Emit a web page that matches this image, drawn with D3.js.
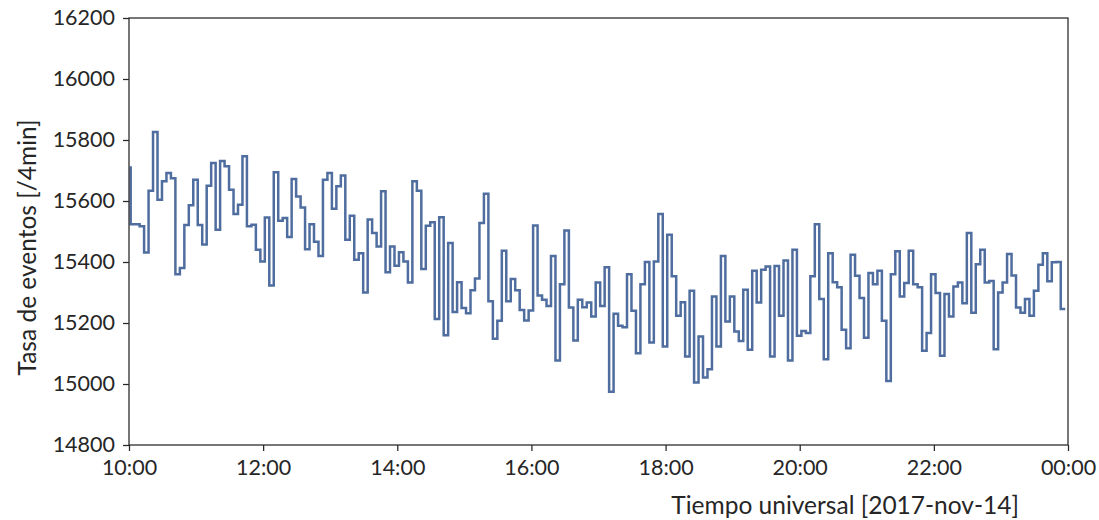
<!DOCTYPE html>
<html>
<head>
<meta charset="utf-8">
<script src="https://cdn.jsdelivr.net/npm/d3@7"></script>
<style>
  html, body { margin: 0; padding: 0; background: #ffffff; }
  svg { display: block; }
  .tick text { font-family: Lato, "Open Sans", sans-serif; font-size: 21.5px; fill: #262626; }
  .lbl { font-family: Lato, "Open Sans", sans-serif; font-size: 24.5px; fill: #262626; }
</style>
</head>
<body>
<svg id="chart" width="1099" height="520"></svg>
<script>
// Event rate per 4-minute bin (counts), 2017-11-14 10:00 - 24:00 UT
const rates = [
  15714, 15524, 15524, 15517, 15431, 15634, 15826, 15604, 15665, 15692,
  15675, 15360, 15380, 15521, 15586, 15670, 15521, 15457, 15650, 15725,
  15506, 15731, 15714, 15637, 15557, 15588, 15747, 15517, 15522, 15440,
  15402, 15546, 15323, 15694, 15535, 15544, 15482, 15672, 15615, 15579,
  15442, 15524, 15466, 15420, 15670, 15692, 15575, 15648, 15684, 15473,
  15552, 15407, 15429, 15300, 15539, 15495, 15451, 15632, 15366, 15451,
  15388, 15432, 15402, 15333, 15665, 15634, 15377, 15519, 15530, 15213,
  15547, 15160, 15462, 15236, 15334, 15249, 15232, 15307, 15346, 15528,
  15624, 15271, 15148, 15207, 15437, 15271, 15344, 15307, 15243, 15208,
  15241, 15520, 15290, 15276, 15256, 15420, 15077, 15327, 15503, 15251,
  15143, 15276, 15252, 15267, 15221, 15333, 15256, 15383, 14975, 15230,
  15191, 15186, 15360, 15240, 15101, 15327, 15400, 15136, 15402, 15557,
  15123, 15489, 15353, 15224, 15268, 15090, 15306, 15005, 15156, 15021,
  15048, 15287, 15123, 15420, 15205, 15287, 15172, 15141, 15309, 15112,
  15371, 15267, 15375, 15385, 15090, 15387, 15224, 15405, 15077, 15440,
  15158, 15174, 15167, 15353, 15524, 15279, 15081, 15429, 15334, 15317,
  15178, 15117, 15424, 15355, 15282, 15152, 15364, 15327, 15371, 15207,
  15010, 15360, 15435, 15287, 15331, 15437, 15327, 15317, 15109, 15167,
  15360, 15298, 15093, 15295, 15221, 15320, 15333, 15265, 15495, 15234,
  15393, 15440, 15333, 15338, 15114, 15300, 15333, 15426, 15356, 15251,
  15234, 15279, 15224, 15306, 15391, 15429, 15337, 15399, 15400, 15246
];
const firstSampleUTC = Date.UTC(2017, 10, 14, 10, 1, 30);
const sampleStepMinutes = 4;
const xDomain = [Date.UTC(2017, 10, 14, 10, 0), Date.UTC(2017, 10, 15, 0, 0)];
const xTickHours = [10, 12, 14, 16, 18, 20, 22, 24];
const yTicks = [14800, 15000, 15200, 15400, 15600, 15800, 16000, 16200];
const yLabel = "Tasa de eventos [/4min]";
const xLabel = "Tiempo universal [2017-nov-14]";

const svg = d3.select("#chart");
const m = { left: 129, right: 1068, top: 18, bottom: 445 };
const ink = "#262626";

const x = d3.scaleUtc().domain(xDomain).range([m.left, m.right]);
const y = d3.scaleLinear().domain([14800, 16200]).range([m.bottom, m.top]);

const pts = rates.map((v, i) => ({ t: new Date(firstSampleUTC + i * sampleStepMinutes * 60000), v }));

// line
svg.append("path")
  .datum(pts)
  .attr("fill", "none")
  .attr("stroke", "#4f6d9f")
  .attr("stroke-width", 2.5)
  .attr("stroke-linejoin", "miter")
  .attr("d", d3.line().x(d => x(d.t)).y(d => y(d.v)).curve(d3.curveStepBefore));

// axes
const xTickDates = xTickHours.map(h => new Date(Date.UTC(2017, 10, 14, h, 0)));
const xAxis = d3.axisBottom(x).tickValues(xTickDates).tickFormat(d3.utcFormat("%H:%M"))
  .tickSize(6).tickPadding(6);
const yAxis = d3.axisLeft(y).tickValues(yTicks).tickFormat(d3.format("d"))
  .tickSize(6).tickPadding(8);

const gx = svg.append("g").attr("transform", `translate(0,${m.bottom})`).call(xAxis);
const gy = svg.append("g").attr("transform", `translate(${m.left},0)`).call(yAxis);
[gx, gy].forEach(g => {
  g.select(".domain").remove();
  g.selectAll(".tick line").attr("stroke", ink).attr("stroke-width", 1.25);
});
gx.selectAll(".tick text").attr("dy", "0.85em");

// frame
svg.append("rect")
  .attr("x", m.left).attr("y", m.top)
  .attr("width", m.right - m.left).attr("height", m.bottom - m.top)
  .attr("fill", "none").attr("stroke", ink).attr("stroke-width", 1.25);

// labels
svg.append("text").attr("class", "lbl")
  .attr("x", 1019).attr("y", 514).attr("text-anchor", "end").text(xLabel);
svg.append("text").attr("class", "lbl")
  .attr("transform", `translate(36,${(m.top + m.bottom) / 2 + 16}) rotate(-90)`)
  .attr("text-anchor", "middle").text(yLabel);
</script>
</body>
</html>
